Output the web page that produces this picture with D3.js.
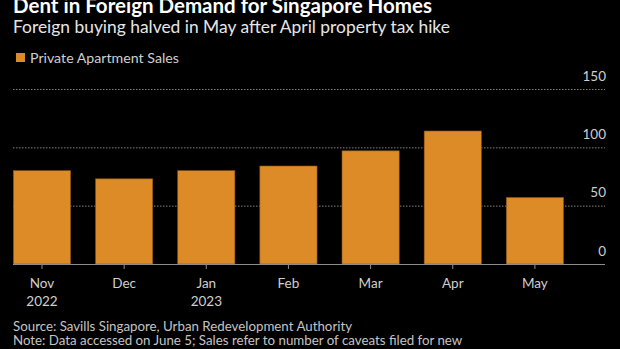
<!DOCTYPE html>
<html>
<head>
<meta charset="utf-8">
<script src="https://cdn.jsdelivr.net/npm/d3@7"></script>
<style>
  html, body { margin: 0; padding: 0; background: #000; }
  svg { display: block; font-family: Lato, "Noto Sans", sans-serif; }
</style>
</head>
<body>
<div id="chart"></div>
<script>
// Chart data
const months = ['Nov', 'Dec', 'Jan', 'Feb', 'Mar', 'Apr', 'May'];
const years = ['2022', '', '2023', '', '', '', ''];
const sales = [80, 73, 80, 84, 97, 114, 57];
const yTicks = [0, 50, 100, 150];

const WIDTH = 620;
const HEIGHT = 349;
const BAR_COLOR = '#dc8b27';
const TEXT_COLOR = '#cfcfcf';

const svg = d3.select('#chart')
    .append('svg')
    .attr('width', WIDTH)
    .attr('height', HEIGHT);

// Titles
svg.append('text')
    .attr('x', 13)
    .attr('y', 12.5)
    .attr('fill', '#fff')
    .attr('font-weight', 700)
    .attr('font-size', 20.5)
    .text('Dent in Foreign Demand for Singapore Homes');

svg.append('text')
    .attr('x', 13)
    .attr('y', 32.5)
    .attr('fill', '#e6e6e6')
    .attr('font-size', 17.4)
    .text('Foreign buying halved in May after April property tax hike');

// Legend
svg.append('rect')
    .attr('x', 16)
    .attr('y', 53)
    .attr('width', 9)
    .attr('height', 9)
    .attr('fill', BAR_COLOR);

svg.append('text')
    .attr('x', 30)
    .attr('y', 62.5)
    .attr('fill', TEXT_COLOR)
    .attr('font-size', 14.2)
    .text('Private Apartment Sales');

// Scales
const x = d3.scaleBand()
    .domain(months)
    .range([13.4, 563.5])
    .paddingInner(0.304)
    .paddingOuter(0);

const y = d3.scaleLinear()
    .domain([0, 150])
    .range([264, 89]);

const gridLeft = 13;
const gridRight = 605;

// Gridlines (behind bars)
svg.append('g')
    .selectAll('line')
    .data(yTicks.filter(d => d > 0))
    .join('line')
    .attr('x1', gridLeft)
    .attr('x2', gridRight)
    .attr('y1', d => y(d) + 0.5)
    .attr('y2', d => y(d) + 0.5)
    .attr('stroke', '#808080')
    .attr('stroke-width', 1)
    .attr('stroke-dasharray', '1.5,1.5');

// Y labels
svg.append('g')
    .selectAll('text')
    .data(yTicks)
    .join('text')
    .attr('x', gridRight + 1)
    .attr('y', d => y(d) - 8.5)
    .attr('text-anchor', 'end')
    .attr('fill', TEXT_COLOR)
    .attr('font-size', 13.5)
    .text(d => d);

// Bars
svg.append('g')
    .selectAll('rect')
    .data(sales)
    .join('rect')
    .attr('x', (d, i) => x(months[i]))
    .attr('y', d => y(d))
    .attr('width', x.bandwidth())
    .attr('height', d => y(0) - y(d))
    .attr('fill', BAR_COLOR)
    .attr('stroke', '#8a5518')
    .attr('stroke-width', 0.6);

// X axis
const xAxis = svg.append('g')
    .attr('transform', `translate(0, ${y(0)})`);

xAxis.append('line')
    .attr('x1', gridLeft)
    .attr('x2', gridRight)
    .attr('y1', 0.5)
    .attr('y2', 0.5)
    .attr('stroke', '#8c8c8c');

const ticks = xAxis.selectAll('g.tick')
    .data(months)
    .join('g')
    .attr('class', 'tick')
    .attr('transform', d => `translate(${x(d) + x.bandwidth() / 2}, 0)`);

ticks.append('line')
    .attr('y1', 0)
    .attr('y2', 5)
    .attr('stroke', '#8c8c8c');

ticks.append('text')
    .attr('y', 23.5)
    .attr('text-anchor', 'middle')
    .attr('fill', TEXT_COLOR)
    .attr('font-size', 13.5)
    .text(d => d);

ticks.append('text')
    .attr('y', 41.5)
    .attr('text-anchor', 'middle')
    .attr('fill', TEXT_COLOR)
    .attr('font-size', 13.5)
    .text((d, i) => years[i]);

// Footer
const footer = [
    'Source: Savills Singapore, Urban Redevelopment Authority',
    'Note: Data accessed on June 5; Sales refer to number of caveats filed for new',
    'private homes excluding executive condominiums'
];

svg.append('g')
    .selectAll('text')
    .data(footer)
    .join('text')
    .attr('x', 13)
    .attr('y', (d, i) => 330.5 + i * 14)
    .attr('fill', '#c4c4c4')
    .attr('font-size', 13.3)
    .text(d => d);
</script>
</body>
</html>
